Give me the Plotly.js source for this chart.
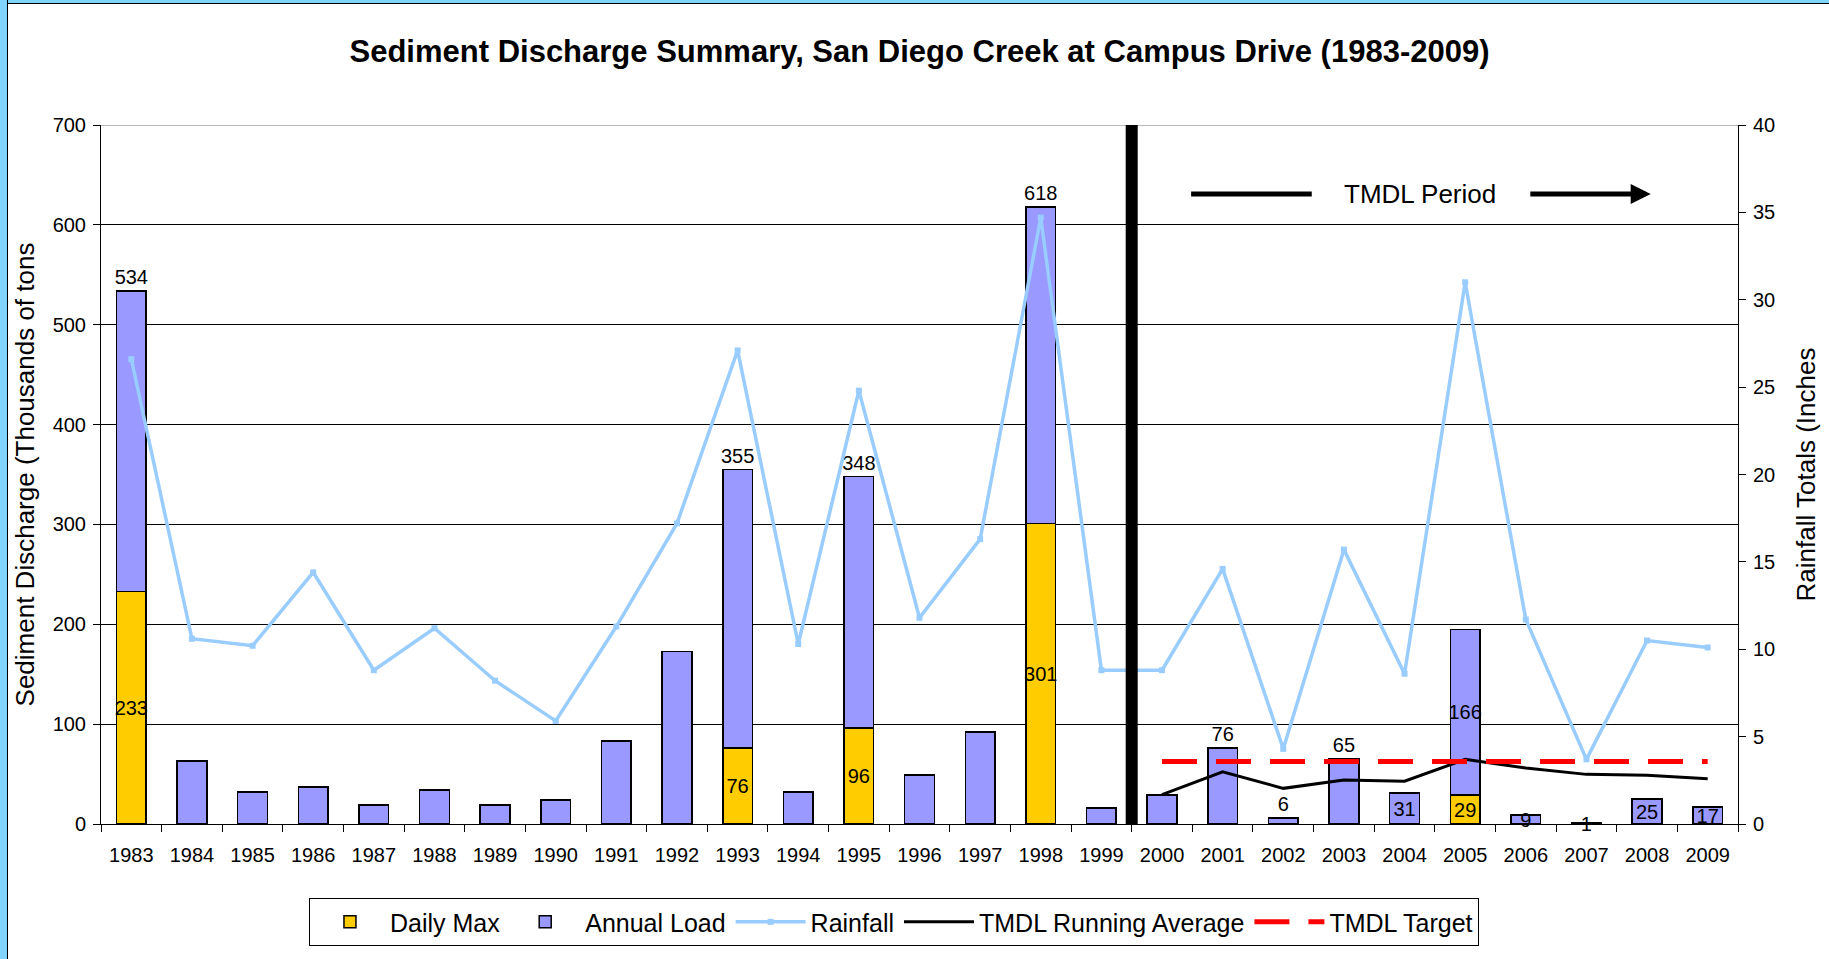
<!DOCTYPE html>
<html>
<head>
<meta charset="utf-8">
<script src="https://cdn.plot.ly/plotly-3.0.1.min.js"></script>
<style>
  html, body { margin: 0; padding: 0; background: #ffffff; }
  #chart { position: absolute; left: 0; top: 0; width: 1829px; height: 959px; }
  #bandTop { position: absolute; left: 0; top: 0; width: 1829px; height: 3px; background: #80D4FF; border-bottom: 1px solid #000; z-index: 10; }
  #bandLeft { position: absolute; left: 0; top: 0; width: 7px; height: 959px; background: #80D4FF; border-right: 1px solid #000; z-index: 10; }
</style>
</head>
<body>
<div id="chart"></div>
<div id="bandTop"></div>
<div id="bandLeft"></div>
<script>
// ---------------- data ----------------
const years = ['1983','1984','1985','1986','1987','1988','1989','1990','1991','1992',
               '1993','1994','1995','1996','1997','1998','1999','2000','2001','2002',
               '2003','2004','2005','2006','2007','2008','2009'];

// Daily Max (thousands of tons), lower stacked segment
const dailyMax = [233, null, null, null, null, null, null, null, null, null,
                  76, null, 96, null, null, 301, null, null, null, null,
                  null, null, 29, null, null, null, null];
const dailyMaxLabels = ['233','','','','','','','','','',
                        '76','','96','','','301','','','','',
                        '','','29','','','',''];

// Annual Load (thousands of tons), upper stacked segment
const annualLoad = [301, 63, 32, 37, 19, 34, 19, 24, 83, 173,
                    279, 32, 252, 49, 92, 317, 16, 29, 76, 6,
                    65, 31, 166, 9, 1, 25, 17];
const annualLabels = ['534','','','','','','','','','',
                      '355','','348','','','618','','','76','6',
                      '65','31','166','9','1','25','17'];
const annualLabelPos = ['outside','inside','inside','inside','inside','inside','inside','inside','inside','inside',
                        'outside','inside','outside','inside','inside','outside','inside','inside','outside','outside',
                        'outside','inside','inside','inside','inside','inside','inside'];

// Rainfall totals (inches), right axis
const rainfall = [26.6, 10.6, 10.2, 14.4, 8.8, 11.2, 8.2, 5.9, 11.3, 17.2,
                  27.1, 10.3, 24.8, 11.8, 16.3, 34.7, 8.8, 8.8, 14.6, 4.3,
                  15.7, 8.6, 31.0, 11.7, 3.7, 10.5, 10.1];

// TMDL period
const tmdlYears = ['2000','2001','2002','2003','2004','2005','2006','2007','2008','2009'];
const tmdlRunningAvg = [29.4, 52.3, 35.7, 44.0, 42.9, 64.7, 56.0, 49.7, 48.7, 45.4];
const tmdlTarget = [62.5, 62.5, 62.5, 62.5, 62.5, 62.5, 62.5, 62.5, 62.5, 62.5];

const leftTicks = [0, 100, 200, 300, 400, 500, 600, 700];
const rightTicks = [0, 5, 10, 15, 20, 25, 30, 35, 40];

// ---------------- chart ----------------
const FONT = 'Liberation Sans, Arial, sans-serif';
const tmdlStartIdx = years.indexOf(tmdlYears[0]);

const traces = [
  {
    type: 'bar', name: 'Daily Max', x: years, y: dailyMax,
    marker: { color: '#FFCC00', line: { color: '#000000', width: 1.5 } },
    text: dailyMaxLabels, textposition: 'inside', insidetextanchor: 'middle',
    textangle: 0, constraintext: 'none',
    insidetextfont: { family: FONT, size: 20, color: '#000000' },
    hoverinfo: 'x+y'
  },
  {
    type: 'bar', name: 'Annual Load', x: years, y: annualLoad,
    marker: { color: '#9999FF', line: { color: '#000000', width: 1.5 } },
    text: annualLabels, textposition: annualLabelPos, insidetextanchor: 'middle',
    textangle: 0, constraintext: 'none', cliponaxis: false,
    insidetextfont: { family: FONT, size: 20, color: '#000000' },
    outsidetextfont: { family: FONT, size: 20, color: '#000000' },
    hoverinfo: 'x+y'
  },
  {
    type: 'scatter', mode: 'lines+markers', name: 'Rainfall', x: years, y: rainfall,
    yaxis: 'y2',
    line: { color: '#99CCFF', width: 3.5 },
    marker: { color: '#99CCFF', symbol: 'square', size: 6 }
  },
  {
    type: 'scatter', mode: 'lines', name: 'TMDL Running Average', x: tmdlYears, y: tmdlRunningAvg,
    line: { color: '#000000', width: 3 }
  },
  {
    type: 'scatter', mode: 'lines', name: 'TMDL Target', x: tmdlYears, y: tmdlTarget,
    line: { color: '#FF0000', width: 5, dash: '35px,19px' }
  }
];

const layout = {
  width: 1829, height: 959,
  margin: { l: 101, r: 91, t: 125, b: 135 },
  paper_bgcolor: '#ffffff', plot_bgcolor: '#ffffff',
  font: { family: FONT, color: '#000000' },
  barmode: 'stack', bargap: 0.51,
  showlegend: true,
  title: {
    text: '<b>Sediment Discharge Summary, San Diego Creek at Campus Drive (1983-2009)</b>',
    font: { family: FONT, size: 31, color: '#000000' },
    x: 0.5, xref: 'paper', xanchor: 'center',
    y: 1 - 51 / 959, yref: 'container', yanchor: 'middle'
  },
  xaxis: {
    type: 'category', range: [-0.5, years.length - 0.5],
    showline: true, linecolor: '#000000', linewidth: 1,
    ticks: 'outside', tickson: 'boundaries', ticklen: 7, tickcolor: '#000000',
    ticklabelstandoff: 13,
    tickfont: { family: FONT, size: 20, color: '#000000' },
    showgrid: false, zeroline: false, fixedrange: true
  },
  yaxis: {
    range: [0, 700], tickvals: leftTicks,
    showline: true, linecolor: '#000000', linewidth: 1,
    ticks: 'outside', ticklen: 7, tickcolor: '#000000',
    ticklabelstandoff: 3,
    tickfont: { family: FONT, size: 20, color: '#000000' },
    showgrid: true, gridcolor: '#000000', gridwidth: 1, zeroline: false,
    title: { text: 'Sediment Discharge (Thousands of tons', font: { family: FONT, size: 26, color: '#000000' }, standoff: 10 },
    automargin: false
  },
  yaxis2: {
    range: [0, 40], tickvals: rightTicks, overlaying: 'y', side: 'right',
    showline: true, linecolor: '#000000', linewidth: 1,
    ticks: 'outside', ticklen: 7, tickcolor: '#000000',
    ticklabelstandoff: 3,
    tickfont: { family: FONT, size: 20, color: '#000000' },
    showgrid: false, zeroline: false,
    title: { text: 'Rainfall Totals (Inches', font: { family: FONT, size: 26, color: '#000000' }, standoff: 22 },
    automargin: false
  },
  legend: {
    orientation: 'h', x: 0.4844, xanchor: 'center', y: -0.106, yanchor: 'top',
    bordercolor: '#000000', borderwidth: 1, bgcolor: '#ffffff',
    font: { family: FONT, size: 25, color: '#000000' },
    itemwidth: 70,
    traceorder: 'normal'
  },
  shapes: [
    // grey top border line of the plot area
    { type: 'line', xref: 'paper', yref: 'y', x0: 0, x1: 1, y0: 700, y1: 700,
      line: { color: '#A0A0A0', width: 1.5 } },
    // TMDL period divider
    { type: 'line', xref: 'x', yref: 'y', x0: tmdlStartIdx - 0.5, x1: tmdlStartIdx - 0.5, y0: -3, y1: 700,
      line: { color: '#000000', width: 12 } },
    // left segment of the TMDL period indicator
    { type: 'line', xref: 'x', yref: 'y', x0: tmdlStartIdx + 0.48, x1: tmdlStartIdx + 2.47, y0: 631, y1: 631,
      line: { color: '#000000', width: 5 } }
  ],
  annotations: [
    { xref: 'x', yref: 'y', x: tmdlStartIdx + 4.25, y: 631, text: 'TMDL Period', showarrow: false,
      font: { family: FONT, size: 26, color: '#000000' }, xanchor: 'center', yanchor: 'middle' },
    { xref: 'x', yref: 'y', x: tmdlStartIdx + 8.06, y: 631, axref: 'x', ayref: 'y',
      ax: tmdlStartIdx + 6.05, ay: 631, text: '', showarrow: true,
      arrowhead: 2, arrowsize: 0.8, arrowwidth: 5, arrowcolor: '#000000' }
  ]
};

Plotly.newPlot('chart', traces, layout, { displayModeBar: false, staticPlot: false });
</script>
</body>
</html>
